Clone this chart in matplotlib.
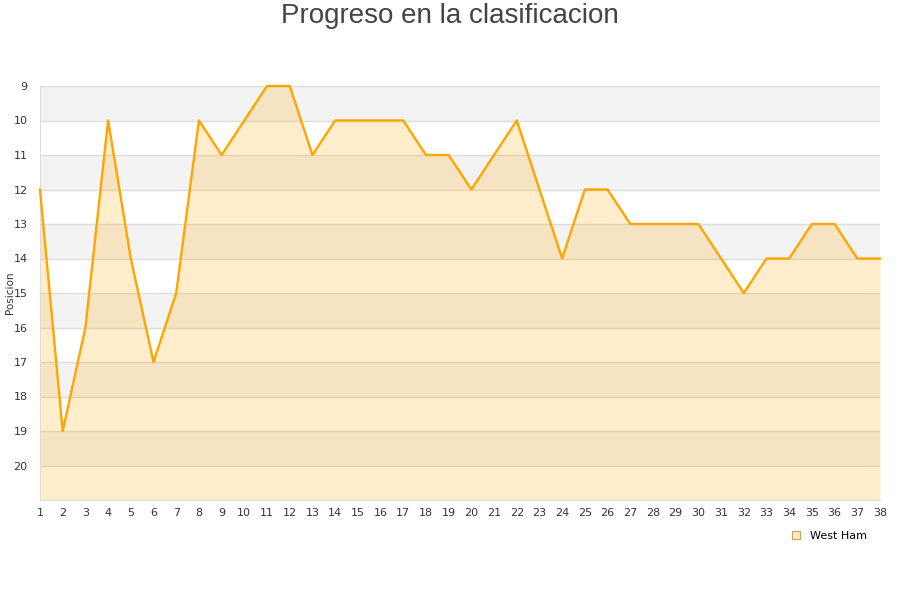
import matplotlib
matplotlib.use("Agg")
import matplotlib.pyplot as plt
from matplotlib.lines import Line2D

jornadas = list(range(1, 39))
posiciones = [12, 19, 16, 10, 14, 17, 15, 10, 11, 10, 9, 9, 11, 10, 10, 10, 10, 11, 11, 12,
              11, 10, 12, 14, 12, 12, 13, 13, 13, 13, 14, 15, 14, 14, 13, 13, 14, 14]
equipo = "West Ham"
y_ticks = list(range(9, 21))

fig = plt.figure(figsize=(9, 6), dpi=100)
ax = fig.add_axes([40/900, 100/600, 840/900, 414/600])

ax.set_xlim(1, 38)
ax.set_ylim(21, 9)

# alternating bands
for y in range(9, 21, 2):
    ax.axhspan(y, y + 1, color="#f3f3f3", zorder=0, lw=0)
for y in range(9, 22):
    ax.axhline(y, color="#dddddd", lw=1, zorder=1)

ax.fill_between(jornadas, posiciones, 21, color="#ffa500", alpha=0.2, lw=0, zorder=2)
ax.plot(jornadas, posiciones, color="#ffa500", lw=1.7, zorder=3, clip_on=False)

ax.set_xticks(jornadas)
ax.set_yticks(y_ticks)
ax.tick_params(axis="both", length=0, labelsize=8, labelcolor="#333333")
ax.tick_params(axis="x", pad=6)
ax.tick_params(axis="y", pad=9)
for s in ["top", "right"]:
    ax.spines[s].set_visible(False)
for s in ["left", "bottom"]:
    ax.spines[s].set_color("#dddddd")

fig.text(10/900, 1 - 293/600, "Posicion", rotation=90, ha="center", va="center",
         fontsize=7.5, color="#333333")
fig.text(0.5, 1 - 16/600, "Progreso en la clasificacion", ha="center", va="center",
         fontsize=20, color="#444444", family=["Liberation Sans", "DejaVu Sans"])

handle = Line2D([], [], marker="s", linestyle="none", markersize=6,
                markerfacecolor="#ffe9c4", markeredgecolor="#c8a060", markeredgewidth=0.8)
fig.legend([handle], [equipo], loc="center left", bbox_to_anchor=(780/900, 1 - 536/600),
           frameon=False, fontsize=8, handletextpad=0.3, borderaxespad=0)

fig.savefig("out.png", dpi=100)
